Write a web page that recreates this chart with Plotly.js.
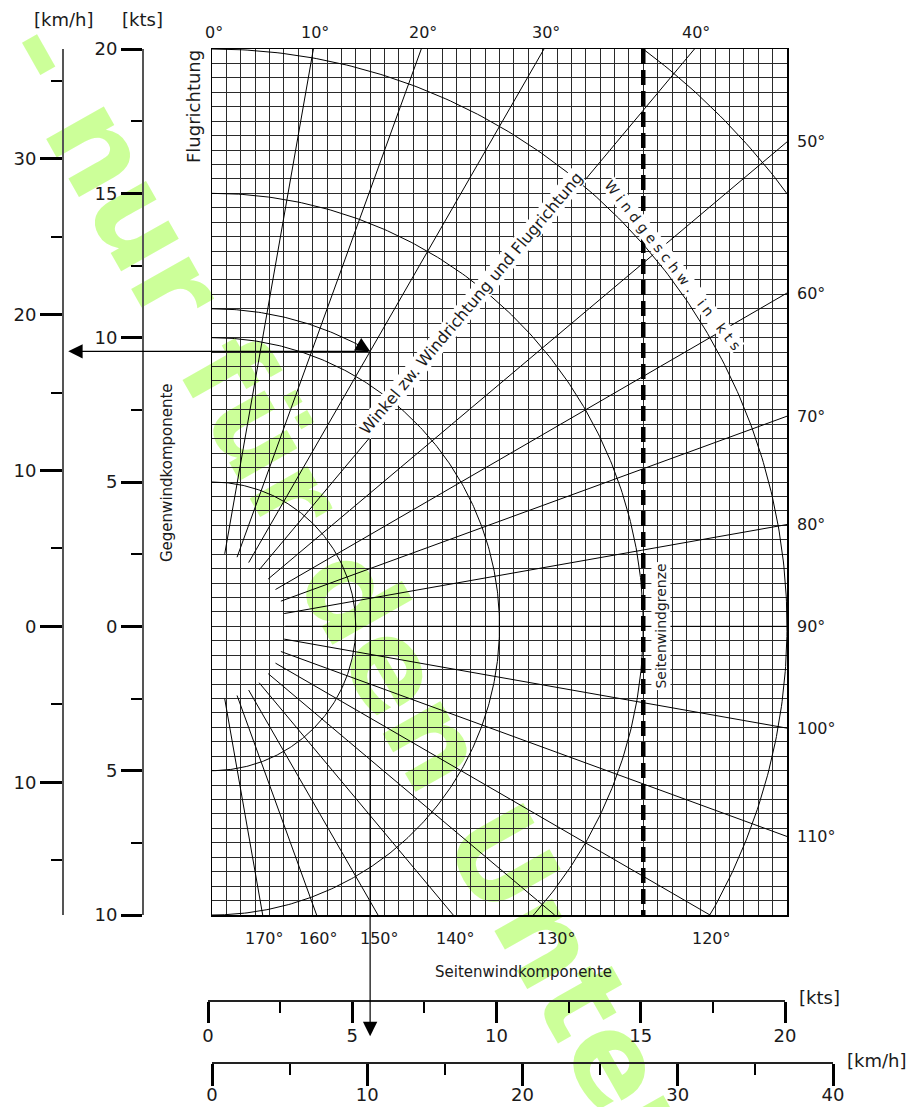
<!DOCTYPE html>
<html><head><meta charset="utf-8">
<script src="https://cdn.plot.ly/plotly-3.0.1.min.js"></script>
<style>
html,body{margin:0;padding:0;background:#fff;overflow:hidden;width:919px;height:1107px}
#wrap{position:relative;width:919px;height:1107px;overflow:hidden}
#wm{position:absolute;left:31.7px;top:-31.2px;height:121px;line-height:121px;white-space:pre;
  font-family:'DejaVu Sans';font-weight:bold;font-size:121px;color:#ccff99;
  transform-origin:0 50%;transform:rotate(60.5deg);z-index:0}
#chart{position:absolute;left:0;top:0;width:919px;height:1107px;z-index:1}
</style>
</head><body><div id="wrap"><div id="wm"></div><div id="chart"></div></div>
<script>
const W = 919, H = 1107;
const FONT = 'DejaVu Sans';
const TXT = '#1a1a1a';

// ---- chart data ----
const circleRadii = [5, 10, 15, 20, 25];                 // wind speed circles [kts]
const rayAngles = [10, 20, 30, 40, 50, 60, 70, 80, 90, 100, 110, 120, 130, 140, 150, 160, 170];
const angleLabels = [0, 10, 20, 30, 40, 50, 60, 70, 80, 90, 100, 110, 120, 130, 140, 150, 160, 170];
const rayInnerRadius = 2.55;                              // kts
const crosswindLimit = 15;                                // kts
const exampleWindSpeed = 11;                              // kts
const exampleWindAngle = 30;                              // deg
const exampleArrowLeftEnd = -5.0;                         // kts (x of the left arrow tip)
const exampleArrowBottomEnd = -14.2;                      // kts (y of the lower arrow tip)
const headKtsMajor = [-10, -5, 0, 5, 10, 15, 20];
const headKtsMinor = [-7.5, -2.5, 2.5, 7.5, 12.5, 17.5];
const headKmhMajor = [-10, 0, 10, 20, 30];
const headKmhMinor = [-15, -5, 5, 15, 25, 35];
const crossKtsMajor = [0, 5, 10, 15, 20];
const crossKtsMinor = [2.5, 7.5, 12.5, 17.5];
const crossKmhMajor = [0, 10, 20, 30, 40];
const crossKmhMinor = [5, 15, 25, 35];
const KMH_PER_KT = 1.852;
const xRange = [0, 20], yRange = [-10, 20];
const watermarkText = '- nur für den Unterricht';

document.getElementById('wm').textContent = watermarkText;

// ---- helpers ----
const fx = p => p / W, fy = p => 1 - p / H;
const rad = d => d * Math.PI / 180;
function rayExit(deg) {
  const s = Math.sin(rad(deg)), c = Math.cos(rad(deg));
  let t = Infinity, side = 'top';
  if (c > 1e-9 && yRange[1] / c < t) { t = yRange[1] / c; side = 'top'; }
  if (c < -1e-9 && yRange[0] / c < t) { t = yRange[0] / c; side = 'bottom'; }
  if (s > 1e-9 && xRange[1] / s < t) { t = xRange[1] / s; side = 'right'; }
  return { x: t * s, y: t * c, side };
}

const traces = [];
// wind speed circles
circleRadii.forEach(r => {
  const xs = [], ys = [];
  for (let a = 0; a <= 180; a += 0.5) { xs.push(r * Math.sin(rad(a))); ys.push(r * Math.cos(rad(a))); }
  traces.push({ x: xs, y: ys, mode: 'lines', line: { color: '#000', width: 1 }, hoverinfo: 'skip' });
});
// angle rays
{
  const xs = [], ys = [];
  rayAngles.forEach(d => {
    const e = rayExit(d);
    xs.push(rayInnerRadius * Math.sin(rad(d)), e.x, null);
    ys.push(rayInnerRadius * Math.cos(rad(d)), e.y, null);
  });
  traces.push({ x: xs, y: ys, mode: 'lines', line: { color: '#000', width: 1 }, hoverinfo: 'skip' });
}
// example: arc of the example wind speed up to the example angle
const exX = exampleWindSpeed * Math.sin(rad(exampleWindAngle));
const exY = exampleWindSpeed * Math.cos(rad(exampleWindAngle));
{
  const xs = [], ys = [];
  for (let a = 0; a <= exampleWindAngle; a += 0.5) { xs.push(exampleWindSpeed * Math.sin(rad(a))); ys.push(exampleWindSpeed * Math.cos(rad(a))); }
  traces.push({ x: xs, y: ys, mode: 'lines', line: { color: '#000', width: 1 }, hoverinfo: 'skip' });
}
// crosswind limit
traces.push({ x: [crosswindLimit, crosswindLimit], y: [yRange[1], yRange[0]], mode: 'lines',
  line: { color: '#000', width: 4.5, dash: '15px,6px' }, hoverinfo: 'skip' });
// carriers for the extra axes
traces.push({ x: [0], y: [0], yaxis: 'y2', mode: 'markers', marker: { opacity: 0 }, hoverinfo: 'skip' });
traces.push({ x: [0], y: [0], yaxis: 'y3', mode: 'markers', marker: { opacity: 0 }, hoverinfo: 'skip' });
traces.push({ x: [0], y: [0], xaxis: 'x2', yaxis: 'y4', mode: 'markers', marker: { opacity: 0 }, hoverinfo: 'skip' });
traces.push({ x: [0], y: [0], xaxis: 'x3', yaxis: 'y5', mode: 'markers', marker: { opacity: 0 }, hoverinfo: 'skip' });

// ---- annotations ----
const ann = [];
angleLabels.forEach(d => {
  const e = rayExit(d);
  const a = { x: e.x, y: e.y, xref: 'x', yref: 'y', text: d + '°', showarrow: false,
    font: { family: FONT, size: 16, color: TXT } };
  if (e.side === 'top') Object.assign(a, { xanchor: 'center', yanchor: 'middle', yshift: 17, xshift: 2 });
  else if (e.side === 'right') Object.assign(a, { xanchor: 'left', yanchor: 'middle', xshift: 8 });
  else Object.assign(a, { xanchor: 'center', yanchor: 'middle', yshift: -23, xshift: 2 });
  ann.push(a);
});
const arrowStyle = { showarrow: true, arrowhead: 2, arrowsize: 2.4, arrowwidth: 1.2, arrowcolor: '#000', text: '' };
ann.push(Object.assign({ x: exX, y: exY, xref: 'x', yref: 'y', ax: -14, ay: -8, axref: 'pixel', ayref: 'pixel' }, arrowStyle));
ann.push(Object.assign({ x: exampleArrowLeftEnd, y: exY, xref: 'x', yref: 'y', ax: exX, ay: exY, axref: 'x', ayref: 'y' }, arrowStyle));
ann.push(Object.assign({ x: exX, y: exampleArrowBottomEnd, xref: 'x', yref: 'y', ax: exX, ay: exY, axref: 'x', ayref: 'y' }, arrowStyle));

// texts
const ptext = (t, x, y, o) => Object.assign({ text: t, x: fx(x), y: fy(y), xref: 'paper', yref: 'paper', showarrow: false,
  xanchor: 'center', yanchor: 'middle', font: { family: FONT, size: 18, color: TXT } }, o || {});
ann.push(ptext('[km/h]', 63, 19));
ann.push(ptext('[kts]', 142, 19));
ann.push(ptext('Flugrichtung', 193, 107, { textangle: -90 }));
ann.push(ptext('Gegenwindkomponente', 167, 473, { textangle: -90, font: { family: FONT, size: 15, color: TXT } }));
ann.push(ptext('Seitenwindkomponente', 523, 972, { font: { family: FONT, size: 15, color: TXT } }));
ann.push(ptext('[kts]', 797, 997, { xanchor: 'left' }));
ann.push(ptext('[km/h]', 845, 1060, { xanchor: 'left' }));
ann.push({ text: 'Seitenwindgrenze', x: crosswindLimit, y: 0, xref: 'x', yref: 'y', xshift: 18, textangle: -90,
  showarrow: false, bgcolor: '#fff', font: { family: FONT, size: 14, color: TXT } });
{
  const r = 14.36, d = 40;
  ann.push({ text: 'Winkel zw. Windrichtung und Flugrichtung', x: r * Math.sin(rad(d)), y: r * Math.cos(rad(d)),
    xref: 'x', yref: 'y', xshift: -6.3, yshift: 5.3, textangle: -50, showarrow: false, bgcolor: '#fff', borderpad: 0,
    font: { family: FONT, size: 16, color: TXT } });
}
{
  const r = 20, d = 52;
  ann.push({ text: 'W i n d g e s c h w .\u00a0\u00a0 i n\u00a0\u00a0 k t s', x: r * Math.sin(rad(d)), y: r * Math.cos(rad(d)),
    xref: 'x', yref: 'y', xshift: 0.79 * 9, yshift: 0.62 * 9, textangle: 52, showarrow: false, bgcolor: '#fff', borderpad: 0,
    font: { family: FONT, size: 14, color: TXT } });
}

// ---- axes ----
const tickf = { family: FONT, size: 18, color: TXT };
const layout = {
  width: W, height: H, margin: { l: 0, r: 0, t: 0, b: 0, pad: 0 },
  paper_bgcolor: 'rgba(0,0,0,0)', plot_bgcolor: 'rgba(0,0,0,0)', showlegend: false,
  xaxis: { domain: [fx(212), fx(787)], range: xRange, dtick: 0.5, tick0: 0, showgrid: true, gridcolor: '#2a2a2a', gridwidth: 1,
    showticklabels: false, ticks: '', zeroline: false, showline: true, mirror: true, linecolor: '#000', linewidth: 1.5,
    automargin: false, fixedrange: true },
  yaxis: { domain: [fy(915), fy(49)], range: yRange, dtick: 0.5, tick0: 0, showgrid: true, gridcolor: '#2a2a2a', gridwidth: 1,
    showticklabels: false, ticks: '', zeroline: false, showline: true, mirror: true, linecolor: '#000', linewidth: 1.5,
    automargin: false, fixedrange: true },
  yaxis2: { overlaying: 'y', anchor: 'free', position: fx(143), side: 'left', range: yRange,
    tickmode: 'array', tickvals: headKtsMajor, ticktext: headKtsMajor.map(v => String(Math.abs(v))),
    ticks: 'outside', ticklen: 21, tickwidth: 3, tickcolor: '#000',
    minor: { tickmode: 'array', tickvals: headKtsMinor, ticks: 'outside', ticklen: 11, tickwidth: 2, tickcolor: '#000', showgrid: false },
    showline: true, linecolor: '#555', linewidth: 2, showgrid: false, zeroline: false, tickfont: tickf, automargin: false, fixedrange: true },
  yaxis3: { overlaying: 'y', anchor: 'free', position: fx(63), side: 'left',
    range: [yRange[0] * KMH_PER_KT, yRange[1] * KMH_PER_KT],
    tickmode: 'array', tickvals: headKmhMajor, ticktext: headKmhMajor.map(v => String(Math.abs(v))),
    ticks: 'outside', ticklen: 22, tickwidth: 3, tickcolor: '#000',
    minor: { tickmode: 'array', tickvals: headKmhMinor, ticks: 'outside', ticklen: 11, tickwidth: 2, tickcolor: '#000', showgrid: false },
    showline: true, linecolor: '#555', linewidth: 2, showgrid: false, zeroline: false, tickfont: tickf, automargin: false, fixedrange: true },
  xaxis2: { domain: [fx(208), fx(785)], anchor: 'y4', side: 'bottom', range: xRange,
    tickmode: 'array', tickvals: crossKtsMajor, ticktext: crossKtsMajor.map(String),
    ticks: 'outside', ticklen: 21, tickwidth: 3, tickcolor: '#000', ticklabelstandoff: -2,
    minor: { tickmode: 'array', tickvals: crossKtsMinor, ticks: 'outside', ticklen: 11, tickwidth: 2, tickcolor: '#000', showgrid: false },
    showline: true, linecolor: '#222', linewidth: 1.5, showgrid: false, zeroline: false, tickfont: tickf, automargin: false, fixedrange: true },
  yaxis4: { domain: [fy(1000), fy(997)], range: [0, 1], visible: false, fixedrange: true },
  xaxis3: { domain: [fx(212), fx(833)], anchor: 'y5', side: 'bottom', range: [0, 40],
    tickmode: 'array', tickvals: crossKmhMajor, ticktext: crossKmhMajor.map(String),
    ticks: 'outside', ticklen: 22, tickwidth: 3, tickcolor: '#000', ticklabelstandoff: -6,
    minor: { tickmode: 'array', tickvals: crossKmhMinor, ticks: 'outside', ticklen: 11, tickwidth: 2, tickcolor: '#000', showgrid: false },
    showline: true, linecolor: '#222', linewidth: 1.5, showgrid: false, zeroline: false, tickfont: tickf, automargin: false, fixedrange: true },
  yaxis5: { domain: [fy(1062), fy(1059)], range: [0, 1], visible: false, fixedrange: true },
  annotations: ann
};
Plotly.newPlot('chart', traces, layout, { staticPlot: true, displayModeBar: false });
</script></body></html>
